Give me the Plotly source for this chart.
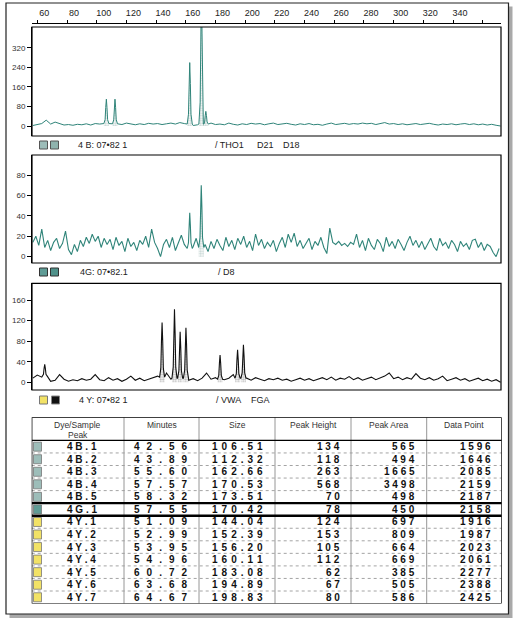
import plotly.graph_objects as go

W, H = 515, 625

# ---------------- table data ----------------
peak_ids = ["4B.1", "4B.2", "4B.3", "4B.4", "4B.5", "4G.1",
            "4Y.1", "4Y.2", "4Y.3", "4Y.4", "4Y.5", "4Y.6", "4Y.7"]
minutes = [42.56, 43.89, 55.60, 57.57, 58.32, 57.55, 51.09, 52.99, 53.95, 54.96, 60.72, 63.68, 64.67]
sizes = [106.51, 112.32, 162.66, 170.53, 173.51, 170.42, 144.04, 152.39, 156.20, 160.11, 183.08, 194.89, 198.83]
peak_height = [134, 118, 263, 568, 70, 78, 124, 153, 105, 112, 62, 67, 80]
peak_area = [565, 494, 1665, 3498, 498, 450, 697, 809, 664, 669, 385, 505, 586]
data_point = [1596, 1646, 2085, 2159, 2187, 2158, 1916, 1987, 2023, 2061, 2277, 2388, 2425]
header = ["Dye/Sample", "Minutes", "Size", "Peak Height", "Peak Area", "Data Point"]

# peak heights as drawn in the traces (axis units)
drawn_height = [110, 110, 260, 568, 60, 70, 116, 142, 98, 106, 53, 63, 73]

# peaks visible in traces but not listed in the table
green_extra_size = [162.66]
green_extra_h = [43]
yellow_extra_size = [65.0]
yellow_extra_h = [35]

# ---------------- baseline signal ----------------
blue_base_x = [57, 60, 63, 66, 69, 72, 75, 78, 81, 84, 87, 90, 93, 96, 99, 102, 105, 108, 111, 114,
               117, 120, 123, 126, 129, 132, 135, 138, 141, 144, 147, 150, 153, 156, 159, 162, 165, 168, 171, 174,
               177, 180, 183, 186, 189, 192, 195, 198, 201, 204, 207, 210, 213, 216, 219, 222, 225, 228, 231, 234,
               237, 240, 243, 246, 249, 252, 255, 258, 261, 264, 267, 270, 273, 276, 279, 282, 285, 288, 291, 294,
               297, 300, 303, 306, 309, 312, 315, 318, 321, 324, 327, 330, 333, 336, 339, 342, 345, 348, 351, 354,
               357, 360, 363, 366, 369, 372]
blue_base_y = [2, 6, 10, 24, 8, 16, 10, 4, 6, 3, 7, 5, 9, 4, 10, 8, 9, 10, 9, 8,
               6, 12, 7, 5, 9, 6, 11, 8, 10, 6, 9, 12, 8, 14, 10, 8, 2, 5, 8, 8,
               12, 6, 8, 5, 12, 7, 4, 9, 6, 11, 8, 10, 5, 9, 12, 6, 8, 11, 7, 4,
               9, 6, 10, 5, 7, 3, 8, 12, 6, 9, 11, 7, 10, 8, 12, 9, 11, 6, 10, 14,
               8, 10, 6, 9, 5, 7, 10, 6, 9, 11, 7, 4, 8, 6, 9, 5, 8, 10, 6, 9,
               5, 8, 4, 7, 3, 0]

green_base_x = [57, 59, 61, 63, 65, 67, 69, 71, 73, 75, 77, 79, 81, 83, 85, 87, 89, 91, 93, 95,
                97, 99, 101, 103, 105, 107, 109, 111, 113, 115, 117, 119, 121, 123, 125, 127, 129, 131, 133, 135,
                137, 139, 141, 143, 145, 147, 149, 151, 153, 155, 157, 159, 161, 163, 165, 167, 169, 171, 173, 175,
                177, 179, 181, 183, 185, 187, 189, 191, 193, 195, 197, 199, 201, 203, 205, 207, 209, 211, 213, 215,
                217, 219, 221, 223, 225, 227, 229, 231, 233, 235, 237, 239, 241, 243, 245, 247, 249, 251, 253, 255,
                257, 259, 261, 263, 265, 267, 269, 271, 273, 275, 277, 279, 281, 283, 285, 287, 289, 291, 293, 295,
                297, 299, 301, 303, 305, 307, 309, 311, 313, 315, 317, 319, 321, 323, 325, 327, 329, 331, 333, 335,
                337, 339, 341, 343, 345, 347, 349, 351, 353, 355, 357, 359, 361, 363, 365, 367, 369, 371]
green_base_y = [14, 20, 11, 27, 9, 16, 6, 14, 18, 8,
                13, 25, 7, 2, 12, 5, 16, 10, 19, 13,
                22, 15, 20, 9, 18, 12, 17, 7, 19, 11,
                15, 5, 18, 10, 14, 6, 16, 12, 20, 9,
                27, 14, 8, 0, 12, 17, 9, 19, 6, 13,
                21, 12, 8, 8, 10, 18, 9, 9, 12, 5,
                15, 8, 17, 11, 6, 19, 10, 16, 7, 18,
                12, 20, 9, 15, 6, 22, 11, 17, 8, 14,
                10, 16, 5, 13, 19, 9, 22, 14, 23, 10,
                16, 8, 13, 18, 7, 15, 11, 19, 9, 3,
                28, 14, 12, 15, 11, 13, 10, 14, 12, 22,
                9, 16, 6, 18, 11, 7, 17, 13, 5, 19,
                10, 15, 8, 17, 12, 6, 14, 20, 11, 16,
                9, 15, 7, 13, 18, 10, 6, 18, 11, 14,
                8, 16, 12, 5, 15, 10, 13, 7, 16, 17,
                9, 14, 6, 12, 10, 4, 0, 8]

yellow_base_x = blue_base_x
yellow_base_y = [8, 14, 10, 12, 2, 4, 15, 6, 2, 5, 3, 7, 4, 6, 15, 5, 3, 9, 4, 7,
                 2, 6, 12, 4, 8, 3, 6, 10, 12, 10, 18, 6, 8, 8, 8, 4, 7, 3, 8, 18,
                 6, 9, 6, 5, 8, 15, 8, 8, 8, 4, 9, 6, 3, 7, 5, 8, 4, 6, 2, 5,
                 8, 4, 7, 3, 6, 9, 5, 10, 4, 8, 6, 11, 5, 9, 4, 7, 10, 5, 8, 12,
                 18, 7, 10, 5, 9, 6, 17, 8, 5, 9, 4, 7, 12, 3, 6, 9, 4, 7, 2, 5,
                 8, 3, 6, 2, 5, 0]

# ---------------- axis ticks / labels ----------------
size_ticks = [60, 80, 100, 120, 140, 160, 180, 200, 220, 240, 260, 280, 300, 320, 340, 360]
size_tick_text = ["60", "80", "100", "120", "140", "160", "180", "200", "220", "240",
                  "260", "280", "300", "320", "340", ""]
blue_yticks = [0, 80, 160, 240, 320]
green_yticks = [0, 20, 40, 60, 80]
yellow_yticks = [0, 40, 80, 120, 160]

blue_label = ["4 B: 07•82 1", "/ THO1", "D21", "D18"]
green_label = ["4G: 07•82.1", "/ D8"]
yellow_label = ["4 Y: 07•82 1", "/ VWA", "FGA"]

# ---------------- styling ----------------
TEAL = "#2f8479"
FONT = "Liberation Sans, Arial, sans-serif"
SHAPE_OFF = [-1.7, -0.85, -0.42, 0.0, 0.42, 0.85, 1.7]
SHAPE_FRAC = [0.0, 0.16, 0.66, 1.0, 0.66, 0.16, 0.0]


def px(x):
    return x / W


def py(y):
    return 1 - y / H


def nearest_base(bx, by, p):
    j = min(range(len(bx)), key=lambda i: abs(bx[i] - p))
    return by[j]


def build(bx, by, pkx, pkh):
    pts = [(x, y) for x, y in zip(bx, by) if all(abs(x - p) > 1.7 for p in pkx)]
    for p, h in zip(pkx, pkh):
        b = nearest_base(bx, by, p)
        for o, f in zip(SHAPE_OFF, SHAPE_FRAC):
            pts.append((p + o, b + (h - b) * f))
    pts.sort()
    return [q[0] for q in pts], [q[1] for q in pts]


def dye_sel(letter):
    idx = [i for i, s in enumerate(peak_ids) if s[1] == letter]
    return [sizes[i] for i in idx], [drawn_height[i] for i in idx]


bs, bh = dye_sel("B")
gs, gh = dye_sel("G")
ys, yh = dye_sel("Y")

bx, by = build(blue_base_x, blue_base_y, bs, bh)
gx, gy = build(green_base_x, green_base_y, gs + green_extra_size, gh + green_extra_h)
yx, yy = build(yellow_base_x, yellow_base_y, ys + yellow_extra_size, yh + yellow_extra_h)

fig = go.Figure()


def add_peak_fills(bxs, bys, pks, phs, xa, ya, fg):
    # stippled fill under each called peak
    for p, h in zip(pks, phs):
        b = nearest_base(bxs, bys, p)
        xs = [p + o for o in SHAPE_OFF]
        ys_ = [b + (h - b) * f for f in SHAPE_FRAC]
        fig.add_trace(go.Scatter(x=xs, y=ys_, mode="lines", line=dict(width=0),
                                 fill="tozeroy", fillcolor="rgba(0,0,0,0)",
                                 fillpattern=dict(shape=".", fgcolor=fg, size=2.5, solidity=0.5),
                                 xaxis=xa, yaxis=ya, hoverinfo="skip"))


add_peak_fills(blue_base_x, blue_base_y, bs, bh, "x", "y", "#8aa9a5")
add_peak_fills(green_base_x, green_base_y, gs, gh, "x2", "y2", "#8aa9a5")
add_peak_fills(yellow_base_x, yellow_base_y, ys, yh, "x3", "y3", "#777777")

fig.add_trace(go.Scatter(x=bx, y=by, mode="lines", line=dict(color=TEAL, width=1),
                         xaxis="x", yaxis="y", hoverinfo="skip"))
fig.add_trace(go.Scatter(x=gx, y=gy, mode="lines", line=dict(color=TEAL, width=1.1),
                         xaxis="x2", yaxis="y2", hoverinfo="skip"))
fig.add_trace(go.Scatter(x=yx, y=yy, mode="lines", line=dict(color="#111111", width=1.1),
                         xaxis="x3", yaxis="y3", hoverinfo="skip"))
# carriers for top size axis and table axes
fig.add_trace(go.Scatter(x=[200], y=[-1000], mode="markers", marker=dict(opacity=0),
                         xaxis="x4", yaxis="y", hoverinfo="skip"))
fig.add_trace(go.Scatter(x=[100], y=[500], mode="markers", marker=dict(opacity=0),
                         xaxis="x5", yaxis="y5", hoverinfo="skip"))

XR = [56.43, 372.3]
XDOM = [px(32), px(501)]
panels = [  # (top px, bottom px, yrange, ticks)
    (27, 136, [-41, 406], blue_yticks),
    (155, 263, [-6.2, 99.6], green_yticks),
    (283.3, 390, [-15, 192.5], yellow_yticks),
]

layout_axes = {}
for k, (t, b, yr, tv) in enumerate(panels, start=1):
    sfx = "" if k == 1 else str(k)
    layout_axes["xaxis" + sfx] = dict(domain=XDOM, range=XR, visible=False, anchor="y" + sfx)
    layout_axes["yaxis" + sfx] = dict(domain=[py(b), py(t)], range=yr, tickvals=tv,
                                      ticks="outside", ticklen=4, tickcolor="black",
                                      tickfont=dict(size=8, color="#333", family=FONT),
                                      showline=True, linecolor="black", linewidth=1,
                                      showgrid=False, zeroline=False, anchor="x" + sfx,
                                      fixedrange=True)

layout_axes["xaxis4"] = dict(overlaying="x", anchor="free", position=py(22.7), side="top",
                             range=XR, tickvals=size_ticks, ticktext=size_tick_text,
                             ticks="outside", ticklen=3, tickcolor="black",
                             showline=True, linecolor="black", linewidth=1,
                             showgrid=False, zeroline=False, ticklabelshift=7,
                             tickfont=dict(size=9, color="#222", family=FONT))
TX0, TX1, TY0, TY1 = 31.7, 501.7, 417.3, 603.6
layout_axes["xaxis5"] = dict(domain=[px(TX0), px(TX1)], range=[TX0, TX1], visible=False, anchor="y5")
layout_axes["yaxis5"] = dict(domain=[py(TY1), py(TY0)], range=[TY1, TY0], visible=False, anchor="x5")

shapes = []
annotations = []

# page frame with shadow
shapes.append(dict(type="rect", xref="paper", yref="paper", x0=px(9.5), x1=px(512.5),
                   y0=py(618), y1=py(6.5), fillcolor="#a9a9a9", line=dict(width=0), layer="below"))
shapes.append(dict(type="rect", xref="paper", yref="paper", x0=px(6), x1=px(508.5),
                   y0=py(614), y1=py(3), fillcolor="white", line=dict(color="#222", width=1.2),
                   layer="below"))
# panel boxes
for t, b, yr, tv in panels:
    shapes.append(dict(type="rect", xref="paper", yref="paper", x0=XDOM[0], x1=XDOM[1],
                       y0=py(b), y1=py(t), line=dict(color="black", width=1.2)))


# sample label rows
def swatch(x0, y0, color, border="#555"):
    shapes.append(dict(type="rect", xref="paper", yref="paper", x0=px(x0), x1=px(x0 + 8),
                       y0=py(y0 + 8), y1=py(y0), fillcolor=color, line=dict(color=border, width=1)))


def label(x, y, text):
    annotations.append(dict(xref="paper", yref="paper", x=px(x), y=py(y), text=text,
                            showarrow=False, xanchor="left", yanchor="middle",
                            font=dict(size=9, color="#222", family=FONT)))


swatch(39.5, 141, "#9dbdb9"); swatch(50.5, 141, "#8fb3ae")
label(76, 145, blue_label[0]); label(213, 145, blue_label[1])
label(255, 145, blue_label[2]); label(281, 145, blue_label[3])

swatch(39.5, 268, "#5f9c96", "#333"); swatch(50.5, 268, "#4f918a", "#333")
label(78, 272, green_label[0]); label(216, 272, green_label[1])

swatch(39.5, 396, "#f2e266", "#777"); swatch(51.5, 396, "#111111", "#888")
label(77, 400, yellow_label[0]); label(214, 400, yellow_label[1]); label(249, 400, yellow_label[2])

# ---------------- table ----------------
COLS = [31.7, 124, 199, 275, 351, 426.7, 501.7]
ROW0, RH = 440.4, 12.55
for xc in COLS[1:-1]:
    shapes.append(dict(type="line", xref="x5", yref="y5", x0=xc, x1=xc, y0=TY0, y1=TY1,
                       line=dict(color="#8a8a8a", width=0.9)))
for i in range(1, len(peak_ids)):
    yl = ROW0 + RH * i
    if i in (5, 6):
        continue
    shapes.append(dict(type="line", xref="x5", yref="y5", x0=TX0, x1=TX1, y0=yl, y1=yl,
                       line=dict(color="#9a9a9a", width=0.9, dash="dot")))
for i in (5, 6):
    yl = ROW0 + RH * i
    shapes.append(dict(type="line", xref="x5", yref="y5", x0=TX0, x1=TX1, y0=yl, y1=yl,
                       line=dict(color="black", width=2.4)))
shapes.append(dict(type="line", xref="x5", yref="y5", x0=TX0, x1=TX1, y0=ROW0, y1=ROW0,
                   line=dict(color="black", width=1.4)))
shapes.append(dict(type="rect", xref="x5", yref="y5", x0=TX0, x1=TX1, y0=TY0, y1=TY1,
                   line=dict(color="black", width=1.4)))

HFONT = dict(size=8.5, color="#333", family=FONT)
for j, h in enumerate(header):
    xc = (COLS[j] + COLS[j + 1]) / 2
    annotations.append(dict(xref="x5", yref="y5", x=xc, y=424.5, text=h, showarrow=False,
                            xanchor="center", yanchor="middle", font=HFONT))
annotations.append(dict(xref="x5", yref="y5", x=78, y=435, text="Peak", showarrow=False,
                        xanchor="center", yanchor="middle", font=HFONT))

DYE_COLOR = {"B": "#9dbdb9", "G": "#5f9c96", "Y": "#f2e266"}
CFONT = dict(size=10, color="#111", family=FONT, weight=700)
NB = "\u00a0"
RIGHTS = [189.3, 265, 341.7, 417.3, 493.3]
SEPS = ["\u2002\u2009", "\u2009\u2009", NB, NB, NB]


def spaced(s, sep):
    return sep.join(s)


for i, pid in enumerate(peak_ids):
    yc = ROW0 + RH * i + RH / 2
    shapes.append(dict(type="rect", xref="x5", yref="y5", x0=33.5, x1=41.5, y0=yc - 4.5, y1=yc + 4.5,
                       fillcolor=DYE_COLOR[pid[1]], line=dict(color="#777", width=0.8)))
    annotations.append(dict(xref="x5", yref="y5", x=65, y=yc, text=spaced(pid, NB), showarrow=False,
                            xanchor="left", yanchor="middle", font=CFONT))
    vals = [f"{minutes[i]:.2f}", f"{sizes[i]:.2f}", str(peak_height[i]), str(peak_area[i]), str(data_point[i])]
    for v, xr, sep in zip(vals, RIGHTS, SEPS):
        annotations.append(dict(xref="x5", yref="y5", x=xr, y=yc, text=spaced(v, sep), showarrow=False,
                                xanchor="right", yanchor="middle", font=CFONT))

fig.update_layout(
    width=W, height=H, margin=dict(l=0, r=0, t=0, b=0, pad=0),
    paper_bgcolor="white", plot_bgcolor="rgba(0,0,0,0)",
    showlegend=False, shapes=shapes, annotations=annotations,
    **layout_axes,
)

fig.write_html("out.html")
